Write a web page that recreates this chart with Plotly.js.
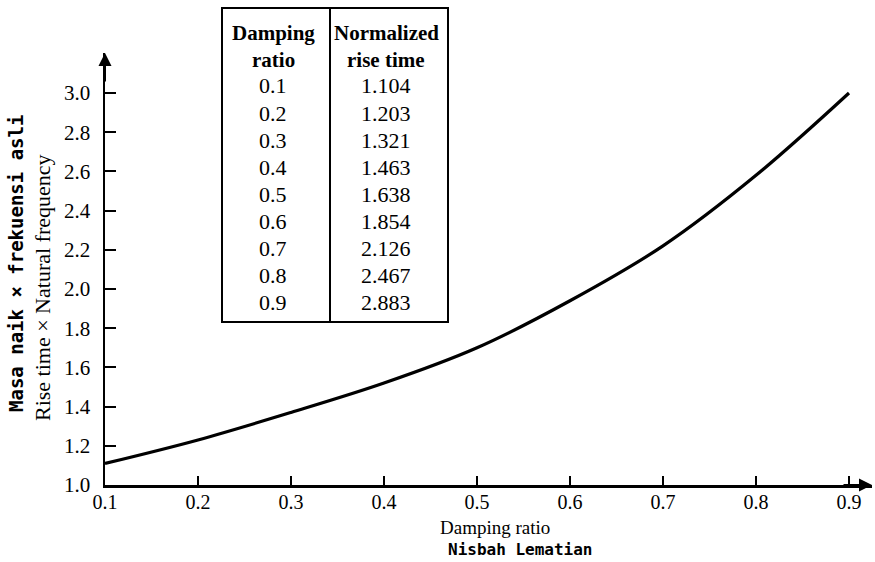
<!DOCTYPE html>
<html>
<head>
<meta charset="utf-8">
<script src="https://cdn.plot.ly/plotly-3.0.1.min.js"></script>
<style>html,body{margin:0;padding:0;background:#fff;}#chart{width:875px;height:562px;}</style>
</head>
<body>
<div id="chart"></div>
<script>
// Curve as drawn
const dampingRatio = [0.1, 0.2, 0.3, 0.4, 0.5, 0.6, 0.7, 0.8, 0.9];
const riseTimeCurve = [1.11, 1.23, 1.37, 1.52, 1.70, 1.94, 2.22, 2.58, 3.00];

// Inset table contents
const tableHeaderLeft = ["Damping", "ratio"];
const tableHeaderRight = ["Normalized", "rise time"];
const tableRatio = ["0.1", "0.2", "0.3", "0.4", "0.5", "0.6", "0.7", "0.8", "0.9"];
const tableRiseTime = ["1.104", "1.203", "1.321", "1.463", "1.638", "1.854", "2.126", "2.467", "2.883"];

// Tick labels
const xTicks = [0.1, 0.2, 0.3, 0.4, 0.5, 0.6, 0.7, 0.8, 0.9];
const xTickText = ["0.1", "0.2", "0.3", "0.4", "0.5", "0.6", "0.7", "0.8", "0.9"];
const yTicks = [1.0, 1.2, 1.4, 1.6, 1.8, 2.0, 2.2, 2.4, 2.6, 2.8, 3.0];
const yTickText = ["1.0", "1.2", "1.4", "1.6", "1.8", "2.0", "2.2", "2.4", "2.6", "2.8", "3.0"];

// Layout geometry helpers (pixel -> paper)
const M = {l: 105, r: 3, t: 53, b: 77};
const W = 875, H = 562;
const PW = W - M.l - M.r, PH = H - M.t - M.b;
const px2x = px => (px - M.l) / PW;
const py2y = py => (H - M.b - py) / PH;

const serif = "Liberation Serif, Times New Roman, serif";
const mono = "DejaVu Sans Mono, Liberation Mono, monospace";

const shapes = [
  {type: "rect", xref: "paper", yref: "paper", x0: px2x(222), x1: px2x(448), y0: py2y(322), y1: py2y(8),
   line: {color: "black", width: 2}, fillcolor: "white", layer: "above"},
  {type: "line", xref: "paper", yref: "paper", x0: px2x(330), x1: px2x(330), y0: py2y(322), y1: py2y(8),
   line: {color: "black", width: 2}, layer: "above"}
];

const annotations = [];
const colL = px2x(273), colR = px2x(386);
tableHeaderLeft.forEach((t, i) => {
  annotations.push({xref: "paper", yref: "paper", x: colL, y: py2y(33 + i * 27), text: "<b>" + t + "</b>",
    showarrow: false, xanchor: "center", yanchor: "middle", font: {family: serif, size: 21, color: "black"}});
});
tableHeaderRight.forEach((t, i) => {
  annotations.push({xref: "paper", yref: "paper", x: colR, y: py2y(33 + i * 27), text: "<b>" + t + "</b>",
    showarrow: false, xanchor: "center", yanchor: "middle", font: {family: serif, size: 21, color: "black"}});
});
tableRatio.forEach((t, i) => {
  const yy = py2y(86 + i * 27.1);
  annotations.push({xref: "paper", yref: "paper", x: colL, y: yy, text: t, showarrow: false,
    xanchor: "center", yanchor: "middle", font: {family: serif, size: 22, color: "black"}});
  annotations.push({xref: "paper", yref: "paper", x: colR, y: yy, text: tableRiseTime[i], showarrow: false,
    xanchor: "center", yanchor: "middle", font: {family: serif, size: 22, color: "black"}});
});

// Axis titles
annotations.push({xref: "paper", yref: "paper", x: px2x(495), y: py2y(527), text: "Damping ratio",
  showarrow: false, xanchor: "center", yanchor: "middle", font: {family: serif, size: 19, color: "black"}});
annotations.push({xref: "paper", yref: "paper", x: px2x(520), y: py2y(549), text: "<b>Nisbah Lematian</b>",
  showarrow: false, xanchor: "center", yanchor: "middle", font: {family: mono, size: 16, color: "black"}});
annotations.push({xref: "paper", yref: "paper", x: px2x(16), y: py2y(264), text: "<b>Masa naik × frekuensi asli</b>",
  textangle: -90, showarrow: false, xanchor: "center", yanchor: "middle", font: {family: mono, size: 19, color: "black"}});
annotations.push({xref: "paper", yref: "paper", x: px2x(42), y: py2y(288), text: "Rise time × Natural frequency",
  textangle: -90, showarrow: false, xanchor: "center", yanchor: "middle", font: {family: serif, size: 22, color: "black"}});

// Axis arrows
annotations.push({xref: "paper", yref: "paper", x: 1.0, y: 0, ax: -30, ay: 0,
  showarrow: true, arrowhead: 2, arrowsize: 1.3, arrowwidth: 2, arrowcolor: "black", text: ""});
annotations.push({xref: "paper", yref: "paper", x: 0, y: 1.0, ax: 0, ay: 30,
  showarrow: true, arrowhead: 2, arrowsize: 1.3, arrowwidth: 2, arrowcolor: "black", text: ""});

const trace = {
  x: dampingRatio, y: riseTimeCurve, type: "scatter", mode: "lines",
  line: {color: "black", width: 3.2, shape: "spline", smoothing: 1}, hoverinfo: "skip", cliponaxis: false
};

const layout = {
  width: W, height: H, margin: M, paper_bgcolor: "white", plot_bgcolor: "white", showlegend: false,
  xaxis: {range: [0.1, 0.1 + PW / 930], tickvals: xTicks, ticktext: xTickText, ticks: "inside", ticklen: 9,
    tickwidth: 2, tickcolor: "black", showline: true, linewidth: 2.5, linecolor: "black", showgrid: false,
    zeroline: false, tickfont: {family: serif, size: 20, color: "black"}, ticklabelstandoff: -3, fixedrange: true},
  yaxis: {range: [1.0, 1.0 + PH / 196], tickvals: yTicks, ticktext: yTickText, ticks: "inside", ticklen: 11,
    tickwidth: 2, tickcolor: "black", showline: true, linewidth: 2.5, linecolor: "black", showgrid: false,
    zeroline: false, tickfont: {family: serif, size: 21, color: "black"}, ticklabelstandoff: 8, fixedrange: true},
  shapes: shapes, annotations: annotations
};

Plotly.newPlot("chart", [trace], layout, {displayModeBar: false, staticPlot: true});
</script>
</body>
</html>
